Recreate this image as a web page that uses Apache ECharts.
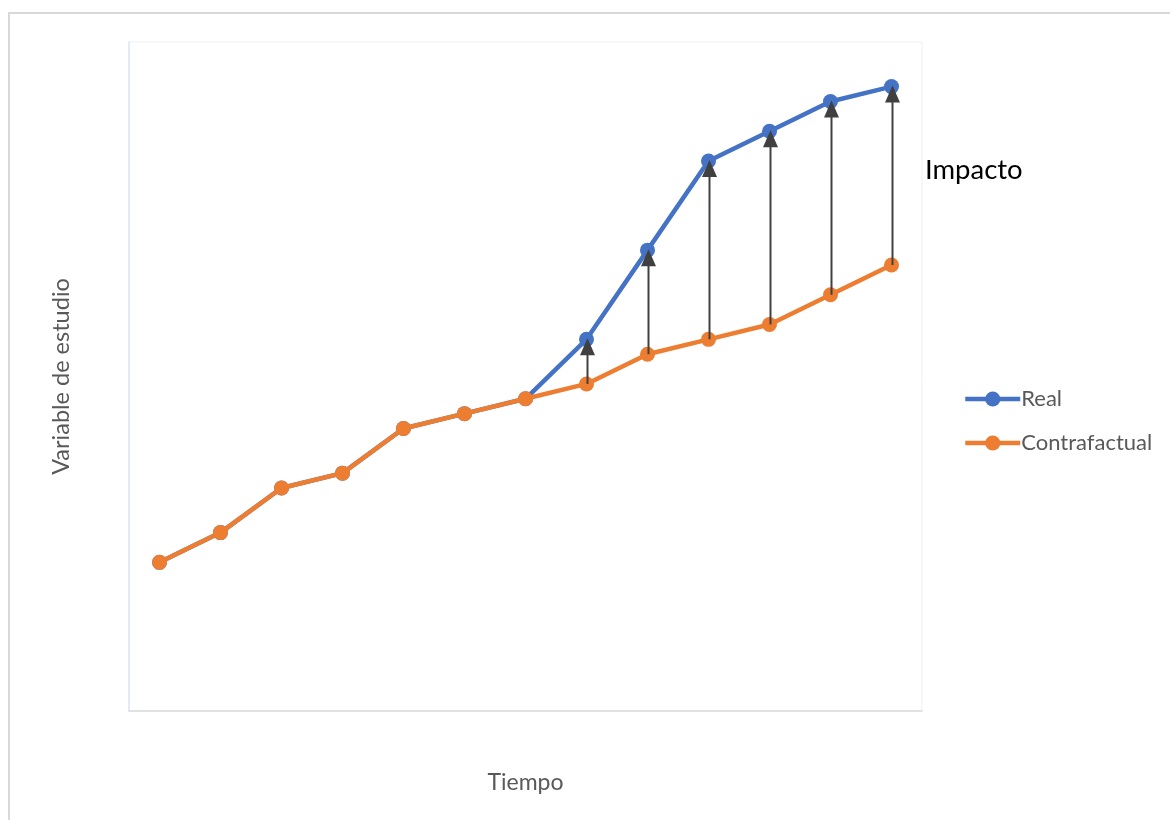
<!DOCTYPE html>
<html>
<head>
<meta charset="utf-8">
<script src="https://cdn.jsdelivr.net/npm/echarts@6/dist/echarts.min.js"></script>
<style>
  html, body { margin: 0; padding: 0; background: #fff; }
  #chart { width: 1170px; height: 820px; }
</style>
</head>
<body>
<div id="chart"></div>
<script>
// Periods along the time axis
const periods = ['1', '2', '3', '4', '5', '6', '7', '8', '9', '10', '11', '12', '13'];
// Observed outcome
const real = [10, 12, 15, 16, 19, 20, 21, 25, 31, 37, 39, 41, 42];
// Outcome without the intervention
const contrafactual = [10, 12, 15, 16, 19, 20, 21, 22, 24, 25, 26, 28, 30];
// Periods where the impact arrows are drawn (from counterfactual up to real)
const impactPeriods = ['8', '9', '10', '11', '12', '13'];

const FONT = 'Lato, "Open Sans", sans-serif';
const BLUE = '#4472C4';
const ORANGE = '#ED7D31';
const ARROW = '#404040';

const arrowData = impactPeriods.map(p => {
  const i = periods.indexOf(p);
  return [i, contrafactual[i], real[i]];
});

const chart = echarts.init(document.getElementById('chart'), null, { renderer: 'canvas' });

chart.setOption({
  animation: false,
  backgroundColor: '#ffffff',
  grid: {
    left: 129, top: 42, right: 248, bottom: 109,
    show: true, borderColor: '#eef1f8', borderWidth: 1
  },
  legend: {
    orient: 'vertical',
    left: 958, top: 383,
    itemWidth: 55, itemHeight: 19, itemGap: 22,
    lineStyle: { width: 4.5 },
    textStyle: { fontFamily: FONT, fontSize: 22, color: '#595959', padding: [0, 0, 0, -4] },
    data: ['Real', 'Contrafactual']
  },
  xAxis: {
    type: 'category',
    data: periods,
    boundaryGap: true,
    name: 'Tiempo',
    nameLocation: 'middle',
    nameGap: 60,
    nameTextStyle: { fontFamily: FONT, fontSize: 23, color: '#595959' },
    axisLine: { show: true, lineStyle: { color: '#d9d9d9', width: 1.5 } },
    axisTick: { show: false },
    axisLabel: { show: false },
    splitLine: { show: false }
  },
  yAxis: {
    type: 'value',
    min: 0, max: 45,
    name: 'Variable de estudio',
    nameLocation: 'middle',
    nameGap: 56,
    nameTextStyle: { fontFamily: FONT, fontSize: 23.5, color: '#595959' },
    axisLine: { show: true, lineStyle: { color: '#dde5f4', width: 1.5 } },
    axisTick: { show: false },
    axisLabel: { show: false },
    splitLine: { show: false }
  },
  graphic: [
    {
      type: 'rect',
      shape: { x: 9, y: 13, width: 1300, height: 900 },
      style: { fill: 'none', stroke: '#d9d9d9', lineWidth: 2 },
      silent: true, z: -10
    },
    {
      type: 'text',
      left: 925, top: 156,
      style: { text: 'Impacto', fontFamily: FONT, fontSize: 27.5, fill: '#000000' }
    }
  ],
  series: [
    {
      name: 'Real',
      type: 'line',
      data: real,
      symbol: 'circle',
      symbolSize: 15,
      lineStyle: { color: BLUE, width: 4.5 },
      itemStyle: { color: BLUE },
      z: 2
    },
    {
      name: 'Contrafactual',
      type: 'line',
      data: contrafactual,
      symbol: 'circle',
      symbolSize: 15,
      lineStyle: { color: ORANGE, width: 4.5 },
      itemStyle: { color: ORANGE },
      z: 3
    },
    {
      name: 'Impacto',
      type: 'custom',
      data: arrowData,
      encode: { x: 0, y: [1, 2] },
      z: 4,
      silent: true,
      renderItem: function (params, api) {
        const from = api.coord([api.value(0), api.value(1)]);
        const to = api.coord([api.value(0), api.value(2)]);
        const headH = 16, headW = 15;
        const x = Math.round(from[0]) + 0.5;
        return {
          type: 'group',
          children: [
            {
              type: 'line',
              shape: { x1: x, y1: from[1], x2: x, y2: to[1] + headH - 1 },
              style: { stroke: ARROW, lineWidth: 2 }
            },
            {
              type: 'polygon',
              shape: { points: [[x, to[1] - 1], [x - headW / 2, to[1] + headH], [x + headW / 2, to[1] + headH]] },
              style: { fill: ARROW }
            }
          ]
        };
      }
    }
  ]
});
</script>
</body>
</html>
